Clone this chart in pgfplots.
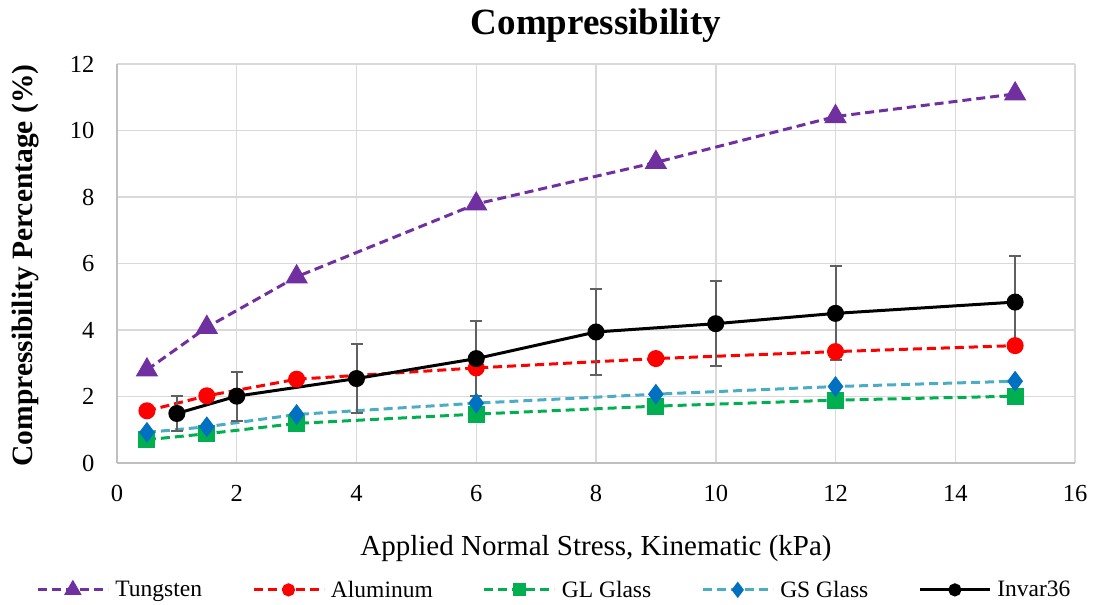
\documentclass[border=0pt]{standalone}
\usepackage{fontspec}
\setmainfont{Liberation Serif}
\usepackage{pgfplots}
\pgfplotsset{compat=1.18}

\definecolor{tungsten}{HTML}{7030A0}
\definecolor{alum}{HTML}{FF0000}
\definecolor{glglass}{HTML}{00B050}
\definecolor{gsline}{HTML}{4BACC6}
\definecolor{gsmark}{HTML}{0070C0}
\definecolor{errgray}{HTML}{606060}
\definecolor{gridgray}{HTML}{D9D9D9}
\definecolor{axisgray}{HTML}{BFBFBF}

\pgfplotstableread{
x y
0.5 2.80
1.5 4.08
3 5.60
6 7.79
9 9.04
12 10.42
15 11.10
}\tungstendata

\pgfplotstableread{
x y
0.5 1.57
1.5 2.02
3 2.52
6 2.86
9 3.14
12 3.35
15 3.53
}\aluminumdata

\pgfplotstableread{
x y
0.5 0.70
1.5 0.88
3 1.19
6 1.47
9 1.71
12 1.89
15 2.01
}\glglassdata

\pgfplotstableread{
x y
0.5 0.92
1.5 1.09
3 1.46
6 1.80
9 2.07
12 2.30
15 2.46
}\gsglassdata

\pgfplotstableread{
x y ey
1 1.49 0.54
2 2.01 0.74
4 2.54 1.03
6 3.14 1.12
8 3.94 1.28
10 4.19 1.27
12 4.50 1.41
15 4.84 1.39
}\invardata

\begin{document}
\begin{tikzpicture}
\begin{axis}[
  scale only axis,
  width=958pt, height=399pt,
  xmin=0, xmax=16, ymin=0, ymax=12,
  xtick={0,2,...,16}, ytick={0,2,...,12},
  axis x line*=bottom, axis y line*=left,
  axis line style={line width=1.5pt, axisgray, -},
  grid=major,
  grid style={line width=1.5pt, gridgray},
  major tick length=0pt,
  /pgf/number format/assume math mode=true,
  tick label style={font=\fontsize{24.5}{28}\selectfont},
  xticklabel style={yshift=-19pt},
  yticklabel style={xshift=-19pt},
  title={Compressibility},
  title style={font=\bfseries\fontsize{37}{42}\selectfont,
               at={(axis description cs:0.5,1)}, anchor=base, yshift=23pt},
  xlabel={Applied Normal Stress, Kinematic (kPa)},
  xlabel style={font=\fontsize{29}{33}\selectfont,
                at={(axis description cs:0.5,-0.2306)}, anchor=base},
  ylabel={Compressibility Percentage (\%)},
  ylabel style={font=\bfseries\fontsize{29.5}{33}\selectfont,
                at={(axis description cs:-0.096,0.495)}, anchor=center},
  legend columns=5,
  legend style={at={(axis description cs:0.4566,-0.318)}, anchor=center,
                draw=none, fill=none, font=\fontsize{23.5}{27}\selectfont,
                /tikz/every odd column/.append style={column sep=4pt},
                /tikz/every even column/.append style={column sep=48pt}},
  legend image code/.code={%
    \draw[mark repeat=2, mark phase=2, #1,
          /tikz/every mark/.append style={scale=0.72}]
      plot coordinates {(0pt,0pt) (35pt,0pt) (70pt,0pt)};},
  every axis plot/.append style={line width=3pt},
  clip=false,
]
  \addplot[tungsten, dash pattern=on 9pt off 5pt, mark=triangle*,
    mark size=10pt, mark options={solid, fill=tungsten}]
    table[x=x, y=y] {\tungstendata};
  \addlegendentry{Tungsten}

  \addplot[alum, dash pattern=on 9pt off 5pt, mark=*,
    mark size=7pt, mark options={solid, fill=alum}]
    table[x=x, y=y] {\aluminumdata};
  \addlegendentry{Aluminum}

  \addplot[glglass, dash pattern=on 9pt off 5pt, mark=square*,
    mark size=7pt, mark options={solid, fill=glglass}]
    table[x=x, y=y] {\glglassdata};
  \addlegendentry{GL Glass}

  \addplot[gsline, dash pattern=on 9pt off 5pt, mark=diamond*,
    mark size=8pt, mark options={solid, draw=gsmark, fill=gsmark}]
    table[x=x, y=y] {\gsglassdata};
  \addlegendentry{GS Glass}

  \addplot[black, solid, mark=*, mark size=7pt, mark options={fill=black},
    error bars/.cd, y dir=both, y explicit,
    error bar style={line width=2pt, errgray},
    error mark options={rotate=90, mark size=6pt, line width=2pt, errgray}]
    table[x=x, y=y, y error=ey] {\invardata};
  \addlegendentry{Invar36}
\end{axis}
\pgfresetboundingbox
\useasboundingbox (-117pt,-142pt) rectangle (981pt,463pt);
\end{tikzpicture}
\end{document}
